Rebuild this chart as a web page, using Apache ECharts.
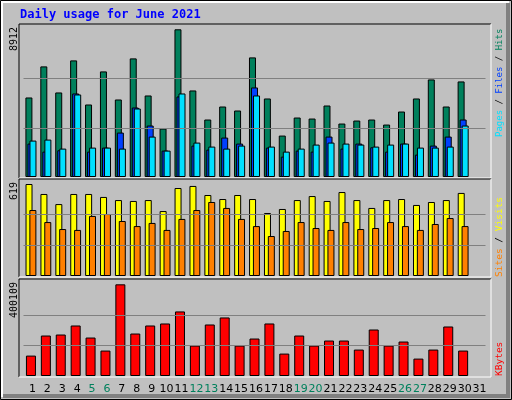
<!DOCTYPE html>
<html><head><meta charset="utf-8">
<script src="https://cdn.jsdelivr.net/npm/echarts@6/dist/echarts.min.js"></script>
<style>html,body{margin:0;padding:0;background:#c0c0c0}#c{width:512px;height:400px}</style>
</head><body><div id="c"></div>
<script>
const days = ['1','2','3','4','5','6','7','8','9','10','11','12','13','14','15','16','17','18','19','20','21','22','23','24','25','26','27','28','29','30','31'];
const weekend = ['5','6','12','13','19','20','26','27'];
const hits = [4799,6674,5101,7036,4375,6371,4677,7157,4919,2923,8912,5222,3468,4254,4012,7217,4738,2500,3589,3528,4314,3226,3407,3468,3165,3951,4738,5887,4254,5766,null];
const files = [2016,1532,1613,5040,1532,1774,2681,4193,3105,1593,4859,1895,1653,2379,2016,5403,1774,1230,1593,1532,2439,1714,2016,1794,1532,2016,1351,1895,2439,3468,null];
const pages = [2197,2258,1714,4980,1774,1774,1714,4133,2439,1593,5040,2077,1835,1714,1895,4919,1835,1532,1714,1956,2077,2016,1956,1835,1956,2016,1774,1774,1835,3105,null];
const visits = [619,552,484,552,552,532,511,505,511,437,592,606,545,518,545,518,424,451,511,538,505,565,511,458,511,518,478,498,511,559,null];
const sites = [444,363,316,310,404,417,370,336,357,310,384,444,498,458,384,336,269,303,363,323,310,363,316,323,363,336,310,350,390,336,null];
const kbytes = [89060,176660,181040,220460,167900,110960,400109,185420,220460,229220,281780,132860,224840,255500,132860,163520,229220,97820,176660,132860,154760,154760,115340,202940,132860,150380,75920,115340,216080,110960,null];
const axisMax = ['8912','619','400109'];

const B = {borderColor:'#000',borderWidth:1};
const frames = [
  {left:20,top:25,width:470,height:152},
  {left:20,top:180,width:470,height:96},
  {left:20,top:280,width:470,height:96}
];
const grids = frames.map(f=>({left:23.5,top:f.top,width:462,height:f.height}));
const xAxes = grids.map((g,i)=>({type:'category',gridIndex:i,data:days,
  axisLine:{show:false},axisTick:{show:false},
  axisLabel:{show:i===2,interval:0,margin:8,fontFamily:'DejaVu Sans',fontSize:11,color:'#000',padding:[0,0,0,3],
    formatter:v=>weekend.includes(v)?'{w|'+v+'}':v,rich:{w:{color:'#00805c',fontFamily:'DejaVu Sans',fontSize:11}}}}));
const ymax=[9172,646,419000];
const yAxes = grids.map((g,i)=>({type:'value',gridIndex:i,min:0,max:ymax[i],
  axisLine:{show:false},axisTick:{show:false},axisLabel:{show:false},splitLine:{show:false}}));
function gl(i,vals){return {type:'line',xAxisIndex:i,yAxisIndex:i,data:[],z:0,silent:true,
  markLine:{silent:true,symbol:'none',label:{show:false},lineStyle:{color:'#808080',type:'solid',width:1},
  data:vals.map(v=>({yAxis:v}))}};}
function bar(i,d,c,w,gap){return {type:'bar',xAxisIndex:i,yAxisIndex:i,data:d,barWidth:w,barGap:gap,
  itemStyle:{color:c,...B},animation:false};}
const series=[
  gl(0,[2971,5941]),gl(1,[206,413]),gl(2,[133370,266740]),
  bar(0,hits,'#00805c',7,'-71%'),bar(0,files,'#0040ff',7,'-71%'),bar(0,pages,'#00e0ff',7,'-71%'),
  bar(1,visits,'#ffff00',7,'-45%'),bar(1,sites,'#ff8000',7,'-45%'),
  bar(2,kbytes,'#ff0000',10,'0%')
];
const mono='DejaVu Sans Mono';
function vtext(x,y,align,rich,text,fs){return {type:'text',x:x,y:y,rotation:Math.PI/2,
  style:{text:text,rich:rich,align:align,verticalAlign:'middle',font:fs+'px "'+mono+'"',fill:'#000'}};}
function frame(g){return [
  {type:'polyline',shape:{points:[[g.left-1,g.top+g.height+1],[g.left-1,g.top-1],[g.left+g.width+1,g.top-1]]},style:{stroke:'#000',fill:null,lineWidth:1}},
  {type:'polyline',shape:{points:[[g.left-1,g.top+g.height+1],[g.left+g.width+1,g.top+g.height+1],[g.left+g.width+1,g.top-1]]},style:{stroke:'#fff',fill:null,lineWidth:1}}
];}
const graphic=[
  {type:'rect',shape:{x:0.5,y:0.5,width:511,height:399},style:{fill:'#c0c0c0',stroke:'#000'},z:-10},
  {type:'polyline',shape:{points:[[2,397],[2,2],[509,2]]},style:{stroke:'#fff',fill:null,lineWidth:2},z:-9},
  {type:'polyline',shape:{points:[[3,396],[508,396],[508,3]]},style:{stroke:'#808080',fill:null,lineWidth:4},z:-9},
  {type:'text',x:20,y:15,style:{text:'Daily usage for June 2021',font:'bold 12px "'+mono+'"',fill:'#0000ff',verticalAlign:'middle'}},
  ...frames.flatMap(frame),
  vtext(14,27,'right',{},axisMax[0],10),
  vtext(14,182,'right',{},axisMax[1],10),
  vtext(14,282,'right',{},axisMax[2],10),
  vtext(500,137,'left',{p:{fill:'#00e0ff'},f:{fill:'#0040ff'},h:{fill:'#00805c'},k:{fill:'#000'}},'{p|Pages}{k| / }{f|Files}{k| / }{h|Hits}',9),
  vtext(500,277,'left',{s:{fill:'#ff8000'},v:{fill:'#ffff00'},k:{fill:'#000'}},'{s|Sites}{k| / }{v|Visits}',9.5),
  vtext(500,376,'left',{r:{fill:'#ff0000'}},'{r|KBytes}',9.5)
];
const chart=echarts.init(document.getElementById('c'));
chart.setOption({backgroundColor:'#c0c0c0',animation:false,grid:grids,xAxis:xAxes,yAxis:yAxes,series:series,graphic:graphic});
</script></body></html>
